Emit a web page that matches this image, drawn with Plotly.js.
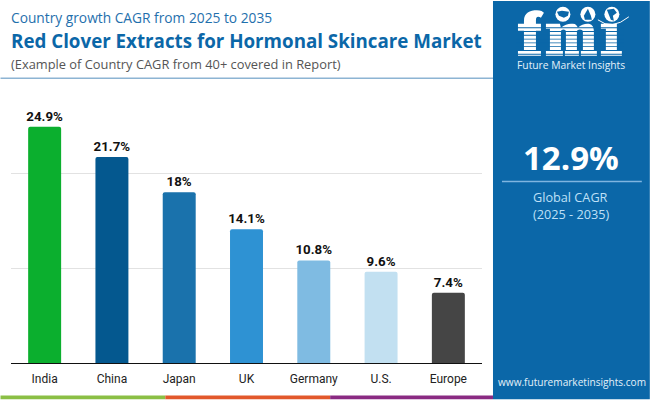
<!DOCTYPE html>
<html><head><meta charset="utf-8">
<script src="https://cdn.plot.ly/plotly-3.0.1.min.js"></script>
<style>html,body{margin:0;padding:0;background:#fff}</style></head>
<body><div id="chart" style="width:650px;height:400px"></div>
<script>
const categories = ["India","China","Japan","UK","Germany","U.S.","Europe"];
const cagrValues = [24.9,21.7,18,14.1,10.8,9.6,7.4];
const barColors = ["#0BAF2E","#04588F","#1A72AC","#2E92D3","#7FBBE2","#C2E0F1","#454545"];
const tickValues = [0,10,20];

const W=650,H=400,mL=10.5,mR=168,mT=100.5,mB=36.5;
const pw=W-mL-mR,ph=H-mT-mB;
const fx=x=>(x-mL)/pw, fy=y=>1-(y-mT)/ph;
const P=s=>s.replace(/(-?[\d.]+),(-?[\d.]+)/g,(m,a,b)=>fx(+a).toFixed(5)+','+fy(+b).toFixed(5));
const BLUE="#0B67A8";
const rect=(x0,y0,x1,y1,c)=>({type:'rect',xref:'paper',yref:'paper',layer:'above',x0:fx(x0),x1:fx(x1),y0:fy(y0),y1:fy(y1),fillcolor:c,line:{width:0}});
const path=(d,c)=>({type:'path',xref:'paper',yref:'paper',layer:'above',path:P(d),fillcolor:c,line:{width:0}});
const circ=(cx,cy,r,c)=>({type:'circle',xref:'paper',yref:'paper',layer:'above',x0:fx(cx-r),x1:fx(cx+r),y0:fy(cy+r),y1:fy(cy-r),fillcolor:c,line:{width:0}});
const txt=(text,x,y,size,color,family,anchor)=>({text,x:fx(x),y:fy(y),xref:'paper',yref:'paper',xanchor:anchor||'left',yanchor:'middle',showarrow:false,font:{size,color,family}});

const shapes=[
 rect(0,77,493,78.5,"#8DB4D3"),
 rect(0,396,165,400,"#8BBF45"),
 rect(165,396,330,400,"#E2582B"),
 rect(330,396,493,400,"#8A2A82"),
 rect(493,0,650,400,BLUE),
 rect(502,180.5,642,182,"#7FB5E0"),
 path("M518,23 L524,23 L524,20 C524,12 530,9.5 537,9.5 C541,9.5 543,11 544,12 L541,17 C539,15.5 536,15 536,19 L536,23 L541,23 L541,30 L536,30 L536,50 L541,50 L541,55 L518,55 L518,50 L524,50 L524,30 L518,30 Z","#fff"),
 path("M546,23 L560,23 L561,27 C565,23 570,22.5 573,23 C576,23 577,25 578,27 C581,23.5 586,22.5 589,23 C593,24 594,27 594,31 L594,50 L597,50 L597,55 L579,55 L579,50 L583,50 L583,31 C583,28 577,28 577,31 L577,50 L581,50 L581,55 L563,55 L563,50 L566,50 L566,31 C566,28 561,28 561,31 L561,50 L565,50 L565,55 L546,55 L546,50 L550,50 L550,28 L546,28 Z","#fff"),
 path("M601,23 L617,23 L617,50 L622,50 L622,55 L601,55 L601,50 L606,50 L606,28 L601,28 Z","#fff"),
];
for(let y=26.5;y<56;y+=3.8){shapes.push(rect(516,y,624,y+0.9,BLUE));}
shapes.push(
 circ(563,13.5,7.5,"#fff"),circ(588,13.5,7.5,"#fff"),circ(612,13.5,7.5,"#fff"),
 path("M557,11 L562,10 L569,11 L568,15 L564,17 L559,15 Z",BLUE),
 path("M588,8 L591,15 L592,19 L585,19 L584,15 Z",BLUE),
 path("M607,9 L614,8 L617,12 L613,15 L614,20 L611,19 L609,14 Z",BLUE),
 {type:'path',xref:'paper',yref:'paper',layer:'above',path:P("M598,19 Q612,30 629,16"),line:{color:"#fff",width:1}}
);

const annotations=[
 txt("Country growth CAGR from 2025 to 2035",8.5,17,13.75,"#1F70AD","Open Sans, sans-serif"),
 txt("<b>Red Clover Extracts for Hormonal Skincare Market</b>",8.5,40,18.75,"#0B67A8","Open Sans, sans-serif"),
 txt("(Example of Country CAGR from 40+ covered in Report)",8.5,63,12.85,"#555555","Open Sans, sans-serif"),
 txt("Future Market Insights",571,64,10.3,"#E4F1FA","Open Sans, sans-serif",'center'),
 txt("<b>12.9%</b>",571.5,157,33,"#FFFFFF","Open Sans, sans-serif",'center'),
 txt("Global CAGR",571,197,12.7,"#BFE0F7","Open Sans, sans-serif",'center'),
 txt("(2025 - 2035)",571,214,12.7,"#BFE0F7","Open Sans, sans-serif",'center'),
 txt("www.futuremarketinsights.com",572.5,383,10.1,"#E4F1FA","Open Sans, sans-serif",'center'),
];

Plotly.newPlot('chart',[{
 type:'bar',x:categories,y:cagrValues,width:0.49,
 marker:{color:barColors,cornerradius:2,line:{width:0}},
 texttemplate:'<b>%{y}%</b>',textposition:'outside',cliponaxis:false,constraintext:'none',
 textfont:{family:'Roboto, sans-serif',size:13.3,color:'#111111'},hoverinfo:'skip'
}],{
 width:W,height:H,margin:{l:mL,r:mR,t:mT,b:mB,pad:0},
 paper_bgcolor:'#fff',plot_bgcolor:'#fff',showlegend:false,
 xaxis:{type:'category',range:[-0.5,6.5],showgrid:false,ticks:'',showline:true,linecolor:'#111',linewidth:1.2,ticklabelstandoff:4,
  tickfont:{family:'Roboto, sans-serif',size:12,color:'#222'},fixedrange:true},
 yaxis:{range:[0,27.6],tickvals:tickValues,showticklabels:false,showgrid:true,gridcolor:'#E2E2E2',gridwidth:1,zeroline:false,ticks:'',fixedrange:true},
 shapes,annotations
},{displayModeBar:false,staticPlot:true});
</script></body></html>
